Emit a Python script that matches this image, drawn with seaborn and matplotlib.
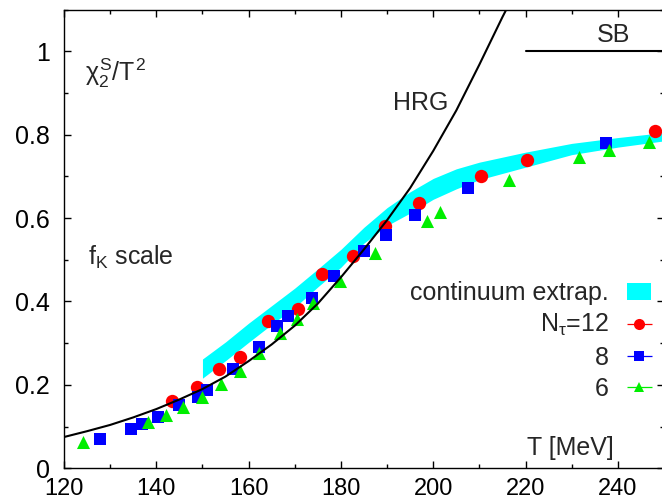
import numpy as np
import matplotlib
matplotlib.use("Agg")
import matplotlib.pyplot as plt
import seaborn as sns
from matplotlib.patches import Patch
from matplotlib.ticker import MultipleLocator, FormatStrFormatter

# Hadron resonance gas curve
T_hrg = [120, 125, 130, 135, 140, 145, 150, 155, 160, 165, 170, 175, 180,
         185, 190, 195, 200, 205, 210, 215, 217]
chi_hrg = [0.075, 0.089, 0.104, 0.122, 0.142, 0.165, 0.190, 0.220, 0.257,
           0.297, 0.342, 0.395, 0.458, 0.525, 0.595, 0.672, 0.761, 0.858,
           0.968, 1.082, 1.125]

# Stefan-Boltzmann limit
T_sb = [220, 250]
chi_sb = [1.0, 1.0]

# Continuum extrapolation band
T_band = [150, 155, 160, 165, 170, 175, 180, 185, 190, 195, 200, 205, 210,
          220, 230, 240, 250]
band_hi = [0.262, 0.303, 0.348, 0.390, 0.432, 0.478, 0.525, 0.578, 0.625,
           0.663, 0.695, 0.718, 0.734, 0.758, 0.779, 0.793, 0.805]
band_lo = [0.216, 0.258, 0.302, 0.345, 0.386, 0.435, 0.482, 0.540, 0.582,
           0.612, 0.645, 0.670, 0.692, 0.722, 0.752, 0.770, 0.785]

# Lattice data, N_tau = 12, 8, 6
T_nt12 = [143.3, 148.9, 153.5, 158.1, 164.3, 170.8, 175.8, 182.7, 189.6,
          196.9, 210.4, 220.3, 248.1]
chi_nt12 = [0.162, 0.196, 0.237, 0.268, 0.352, 0.382, 0.466, 0.508, 0.580,
            0.635, 0.701, 0.740, 0.808]

T_nt8 = [127.7, 134.6, 136.8, 140.4, 144.9, 149.0, 150.9, 156.7, 162.3,
         166.1, 168.6, 173.7, 178.4, 184.9, 189.8, 196.0, 207.5, 237.4]
chi_nt8 = [0.070, 0.094, 0.106, 0.122, 0.151, 0.172, 0.188, 0.239, 0.291,
           0.341, 0.364, 0.408, 0.461, 0.520, 0.560, 0.608, 0.672, 0.780]

T_nt6 = [124.2, 138.3, 142.0, 145.7, 149.8, 154.0, 158.1, 162.3, 166.8,
         170.4, 174.0, 179.8, 187.4, 198.7, 201.5, 216.5, 231.6, 238.1, 246.8]
chi_nt6 = [0.064, 0.112, 0.128, 0.146, 0.172, 0.202, 0.234, 0.277, 0.324,
           0.357, 0.396, 0.448, 0.517, 0.594, 0.614, 0.692, 0.746, 0.762,
           0.782]

legend_labels = ["continuum extrap.", r"N$_\tau$=12", "8", "6"]

RED, BLUE, GREEN, CYAN = "#ff0000", "#0000ff", "#00ee00", "#00ffff"
FS = 18

sns.set_style("ticks")
plt.rcParams.update({
    "font.family": ["Liberation Sans", "DejaVu Sans"],
    "mathtext.fontset": "custom",
    "mathtext.rm": "Liberation Sans",
    "mathtext.it": "Liberation Sans",
    "mathtext.bf": "Liberation Sans:bold",
    "font.size": FS,
    "axes.edgecolor": "black",
    "axes.linewidth": 1.0,
    "xtick.color": "black",
    "ytick.color": "black",
})

fig = plt.figure(figsize=(6.62, 5.04), dpi=100)
ax = fig.add_axes([64 / 662, (504 - 468.3) / 504, 600 / 662, 458.8 / 504])

ax.fill_between(T_band, band_lo, band_hi, color=CYAN, linewidth=0, zorder=1)

sns.scatterplot(x=T_nt12, y=chi_nt12, marker="o", s=9.6 ** 2, color=RED,
                linewidth=0, ax=ax, zorder=3, legend=False)
sns.scatterplot(x=T_nt8, y=chi_nt8, marker="s", s=9.0 ** 2, color=BLUE,
                linewidth=0, ax=ax, zorder=4, legend=False)
sns.scatterplot(x=T_nt6, y=chi_nt6, marker="^", s=9.4 ** 2, color=GREEN,
                linewidth=0, ax=ax, zorder=5, legend=False)

sns.lineplot(x=T_hrg, y=chi_hrg, color="black", linewidth=1.5, ax=ax,
             sort=False, estimator=None, zorder=6)
sns.lineplot(x=T_sb, y=chi_sb, color="black", linewidth=1.5, ax=ax,
             sort=False, estimator=None, zorder=6)

ax.set_xlim(120, 250)
ax.set_ylim(0, 1.1)
ax.xaxis.set_major_locator(MultipleLocator(20))
ax.xaxis.set_minor_locator(MultipleLocator(10))
ax.yaxis.set_major_locator(MultipleLocator(0.2))
ax.yaxis.set_minor_locator(MultipleLocator(0.1))
ax.yaxis.set_major_formatter(FormatStrFormatter("%g"))
ax.tick_params(which="both", direction="in", top=True, right=True, width=1.0)
ax.tick_params(which="major", length=4.8)
ax.tick_params(which="minor", length=2.9)
ax.tick_params(axis="y", which="major", labelsize=FS, pad=10)
ax.tick_params(axis="x", which="major", labelsize=17, pad=7)
ax.set_xlabel("")
ax.set_ylabel("")
for s in ax.spines.values():
    s.set_visible(True)

ax.text(124.55, 0.929, r"$\chi_2^S/T^2$", fontsize=FS, va="baseline")
ax.text(125.2, 0.488, r"f$_K$ scale", fontsize=FS, va="baseline")
ax.text(191.3, 0.860, "HRG", fontsize=FS, va="baseline")
ax.text(235.5, 1.021, "SB", fontsize=FS, va="baseline")
ax.text(220.3, 0.032, "T [MeV]", fontsize=FS, va="baseline")

# legend entries
band_handle = Patch(facecolor=CYAN, edgecolor="none")
err_handles = []
for c, m, ms in [(RED, "o", 8), (BLUE, "s", 7.5), (GREEN, "^", 7.5)]:
    h = ax.errorbar([np.nan], [np.nan], xerr=[1.0], fmt=m, color=c, ms=ms,
                    mec=c, mew=0, elinewidth=0.9, capsize=2.2, capthick=0.9)
    err_handles.append(h)

leg = ax.legend(handles=[band_handle] + err_handles, labels=legend_labels,
                loc="upper right", bbox_to_anchor=(651 / 662, (504 - 281) / 504),
                bbox_transform=fig.transFigure, frameon=False,
                markerfirst=False, handlelength=0.96, handletextpad=0.72,
                handleheight=0.65, labelspacing=0.29, borderpad=0,
                borderaxespad=0, fontsize=FS)

fig.savefig("out.png", dpi=100)
